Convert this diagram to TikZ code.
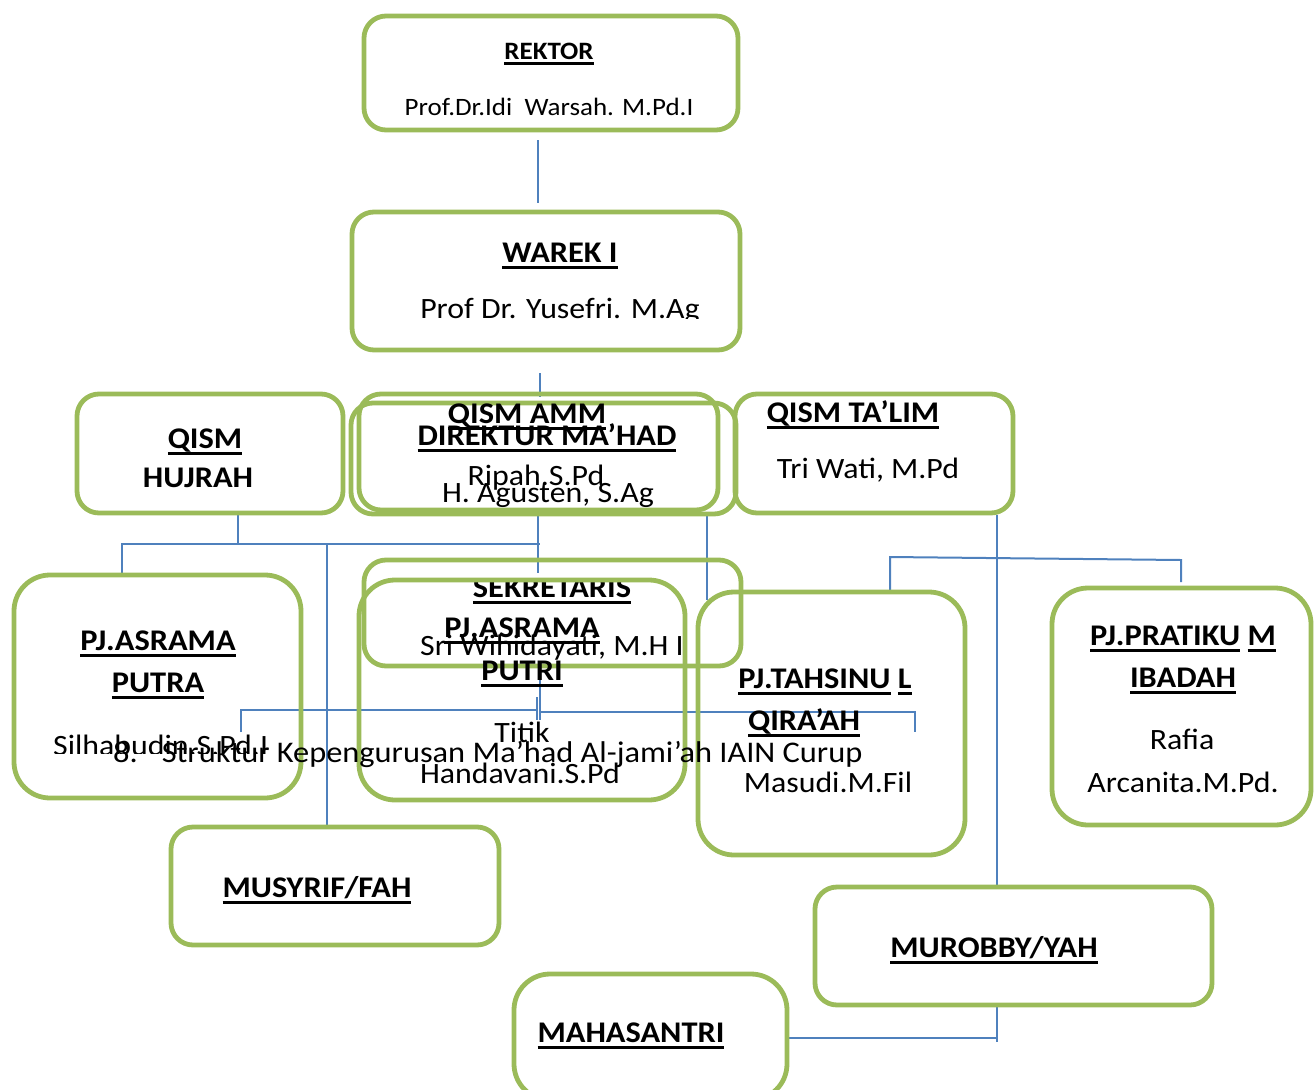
\documentclass[tikz,border=0pt]{standalone}
\usepackage{fontspec}
\setmainfont{Carlito}[FakeStretch=1.08]
\usetikzlibrary{positioning}
\definecolor{boxgreen}{HTML}{9BBB59}
\definecolor{lineblue}{HTML}{4F81BD}
\newcommand{\undl}[1]{\setbox0=\hbox{#1}\rlap{\rule[-0.22em]{\wd0}{0.09em}}\box0\relax}

\begin{document}
\begin{tikzpicture}[x=1pt, y=-1pt,
  box/.style={draw=boxgreen, line width=4.8pt, rounded corners=22pt, inner sep=0pt},
  tallbox/.style={box, rounded corners=36pt},
  link/.style={draw=lineblue, line width=2pt},
  head/.style={font=\fontsize{30}{34}\selectfont\bfseries, anchor=base, inner sep=0pt},
  who/.style={font=\fontsize{29.5}{34}\selectfont, anchor=base, inner sep=0pt}]
\useasboundingbox (0,0) rectangle (1315,1090);

% Titik sambung
\coordinate (rkB) at (538,140); \coordinate (wrT) at (538,203);
\coordinate (wrB) at (540,373); \coordinate (amT) at (540,397);
\coordinate (hjB) at (238,515); \coordinate (hjJ) at (238,544);
\coordinate (leftL) at (122,544); \coordinate (leftR) at (540,544);
\coordinate (ptT) at (122,575);
\coordinate (amB) at (538,515); \coordinate (skT) at (538,573);
\coordinate (msJ) at (327,544); \coordinate (msT) at (327,825);
\coordinate (tsB) at (707,515); \coordinate (thT) at (707,600);
\coordinate (tlB) at (997,515); \coordinate (mbT) at (997,885);
\coordinate (rtL) at (890,557); \coordinate (rtR) at (1181,560);
\coordinate (thT2) at (890,590); \coordinate (prT) at (1181,582);
\coordinate (midL) at (241,710); \coordinate (midC) at (537,710);
\coordinate (midC2) at (540,712); \coordinate (midR) at (915,712);
\coordinate (midLt) at (241,732); \coordinate (midRt) at (915,732);
\coordinate (puB) at (540,672); \coordinate (puX) at (540,720);
\coordinate (tkT) at (537,697); \coordinate (tkB) at (537,720);
\coordinate (mbB) at (997,1007); \coordinate (mbJ) at (997,1042);
\coordinate (mhR) at (789,1038); \coordinate (mbC) at (997,1038);

% Garis
\draw[link] (rkB) -- (wrT);
\draw[link] (wrB) -- (amT);
\draw[link] (hjB) -- (hjJ);
\draw[link] (ptT) -- (leftL) -- (leftR);
\draw[link] (amB) -- (skT);
\draw[link] (msJ) -- (msT);
\draw[link] (tsB) -- (thT);
\draw[link] (tlB) -- (mbT);
\draw[link] (thT2) -- (rtL) -- (rtR) -- (prT);
\draw[link] (midLt) -- (midL) -- (midC);
\draw[link] (midC2) -- (midR) -- (midRt);
\draw[link] (puB) -- (puX);
\draw[link] (tkT) -- (tkB);
\draw[link] (mbB) -- (mbJ);
\draw[link] (mhR) -- (mbC);

% Sekretaris (tertutup kotak putri)
\begin{scope}
\clip (360,580) rectangle (745,700);
\node[head] (sekT) at (552,597) {\undl{SEKRETARIS}};
\end{scope}

% Kotak
\node[box, minimum width=374pt, minimum height=114pt] (rektor) at (551,73) {};
\node[box, minimum width=388pt, minimum height=138pt] (warek) at (546,281) {};
\node[box, minimum width=266pt, minimum height=119pt] (hujrah) at (210,453.5) {};
\node[box, minimum width=359pt, minimum height=116pt] (amm) at (538.5,452) {};
\node[box, minimum width=385pt, minimum height=111pt] (direktur) at (543.5,458.5) {};
\node[box, minimum width=278pt, minimum height=119pt] (talim) at (874,453.5) {};
\node[tallbox, minimum width=287pt, minimum height=223pt] (putra) at (157.5,686.5) {};
\node[box, minimum width=377pt, minimum height=106pt] (sekretaris) at (552.5,613) {};
\node[tallbox, minimum width=326pt, minimum height=220pt] (putri) at (522,690) {};
\node[tallbox, minimum width=267pt, minimum height=263pt] (tahsin) at (831.5,723.5) {};
\node[tallbox, minimum width=259pt, minimum height=237pt] (pratikum) at (1181.5,706.5) {};
\node[box, minimum width=328pt, minimum height=118pt] (musyrif) at (335,886) {};
\node[box, minimum width=397pt, minimum height=118pt] (murobby) at (1013.5,946) {};
\node[tallbox, minimum width=273pt, minimum height=126pt] (mahasantri) at (650.5,1037) {};

% Teks
\node[head, font=\fontsize{25}{30}\selectfont\bfseries] (rektorT) at (549,59) {\undl{REKTOR}};
\node[who, font=\fontsize{25}{30}\selectfont] (rektorN) at (549,115) {Prof.Dr.Idi\ \ Warsah. M.Pd.I};
\node[head, font=\fontsize{30}{34}\selectfont\bfseries] (warekT) at (560,262) {\undl{WAREK I}};
\begin{scope}
\clip (350,270) rectangle (745,318);
\node[who] (warekN) at (560,318) {Prof Dr. Yusefri. M.Ag};
\end{scope}
\node[head] (hujrahT) at (205,448) {\undl{QISM}};
\node[head] (hujrahT2) at (198,487) {HUJRAH};
\node[head] (ammT) at (527,423) {\undl{QISM AMM}};
\node[head] (direkturT) at (547,445) {\undl{DIREKTUR MA’HAD}};
\node[who] (ammN) at (536,485) {Ripah.S.Pd};
\node[who] (direkturN) at (548,502) {H. Agusten, S.Ag};
\node[head] (talimT) at (853,422) {\undl{QISM TA’LIM}};
\node[who] (talimN) at (868,478) {Tri Wati, M.Pd};
\node[who] (sekN) at (552,655) {Sri Wihidayati, M.H I};
\node[head] (putriT) at (522,637) {\undl{PJ.ASRAMA}};
\node[head] (putriT2) at (522,680) {\undl{PUTRI}};
\node[who] (putriN) at (522,742) {Titik};
\node[who] (putriN2) at (520,783) {Handavani.S.Pd};
\node[head] (putraT) at (158,650) {\undl{PJ.ASRAMA}};
\node[head] (putraT2) at (158,692) {\undl{PUTRA}};
\begin{scope}
\clip (20,700) rectangle (300,753);
\node[who, anchor=base west] (putraN) at (53,755) {Silhabudin.S.Pd.I};
\end{scope}
\node[who, font=\fontsize{30}{35}\selectfont, anchor=base west] (judul) at (113,762) {8.\hspace{24pt}Struktur Kepengurusan Ma’had Al-jami’ah IAIN Curup};
\node[head] (tahsinT) at (825,688) {\undl{PJ.TAHSINU} \undl{L}};
\node[head] (tahsinT2) at (804,730) {\undl{QIRA’AH}};
\node[who] (tahsinN) at (828,792) {Masudi.M.Fil};
\node[head] (pratikumT) at (1183,645) {\undl{PJ.PRATIKU} \undl{M}};
\node[head] (pratikumT2) at (1183,687) {\undl{IBADAH}};
\node[who] (pratikumN) at (1182,749) {Rafia};
\node[who] (pratikumN2) at (1183,792) {Arcanita.M.Pd.};
\node[head] (musyrifT) at (317,897) {\undl{MUSYRIF/FAH}};
\node[head] (murobbyT) at (994,957) {\undl{MUROBBY/YAH}};
\node[head] (mahasantriT) at (631,1042) {\undl{MAHASANTRI}};
\end{tikzpicture}
\end{document}
